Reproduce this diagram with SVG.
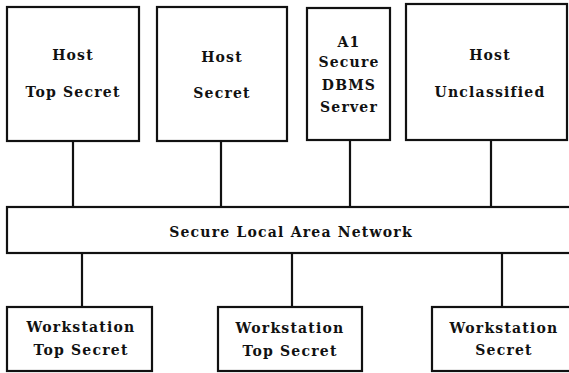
<svg xmlns="http://www.w3.org/2000/svg" width="569" height="373" viewBox="0 0 569 373">
<style>
.box{fill:#fff;stroke:#111;stroke-width:2.2}
.ln{stroke:#111;stroke-width:2.2;fill:none}
text{font-family:"DejaVu Serif","Liberation Serif",serif;font-weight:bold;font-size:14px;letter-spacing:1.2px;fill:#111;text-anchor:middle}
</style>
<rect width="569" height="373" fill="#fff"/>
<g id="connectors">
<line class="ln" x1="73" y1="141" x2="73" y2="207"/>
<line class="ln" x1="221" y1="141" x2="221" y2="207"/>
<line class="ln" x1="350" y1="140" x2="350" y2="207"/>
<line class="ln" x1="491" y1="140" x2="491" y2="207"/>
<line class="ln" x1="82" y1="253" x2="82" y2="307"/>
<line class="ln" x1="292" y1="253" x2="292" y2="307"/>
<line class="ln" x1="502" y1="253" x2="502" y2="307"/>
</g>
<g id="host-ts"><rect class="box" x="7" y="7" width="132" height="134"/><text x="73" y="60">Host</text><text x="73" y="97">Top Secret</text></g>
<g id="host-s"><rect class="box" x="157" y="7" width="130" height="134"/><text x="222" y="62">Host</text><text x="222" y="98">Secret</text></g>
<g id="a1"><rect class="box" x="307" y="8" width="83" height="132"/><text x="349" y="47">A1</text><text x="349" y="67">Secure</text><text x="349" y="90">DBMS</text><text x="349" y="112">Server</text></g>
<g id="host-u"><rect class="box" x="406" y="4" width="161" height="136"/><text x="490" y="60">Host</text><text x="490" y="97">Unclassified</text></g>
<g id="lan"><rect class="box" x="7" y="207" width="570" height="46"/><text x="291" y="237">Secure Local Area Network</text></g>
<g id="ws1"><rect class="box" x="7" y="307" width="145" height="64"/><text x="81" y="332">Workstation</text><text x="81" y="355">Top Secret</text></g>
<g id="ws2"><rect class="box" x="218" y="307" width="144" height="64"/><text x="290" y="333">Workstation</text><text x="290" y="356">Top Secret</text></g>
<g id="ws3"><rect class="box" x="432" y="307" width="145" height="64"/><text x="504" y="333">Workstation</text><text x="504" y="355">Secret</text></g>
</svg>
